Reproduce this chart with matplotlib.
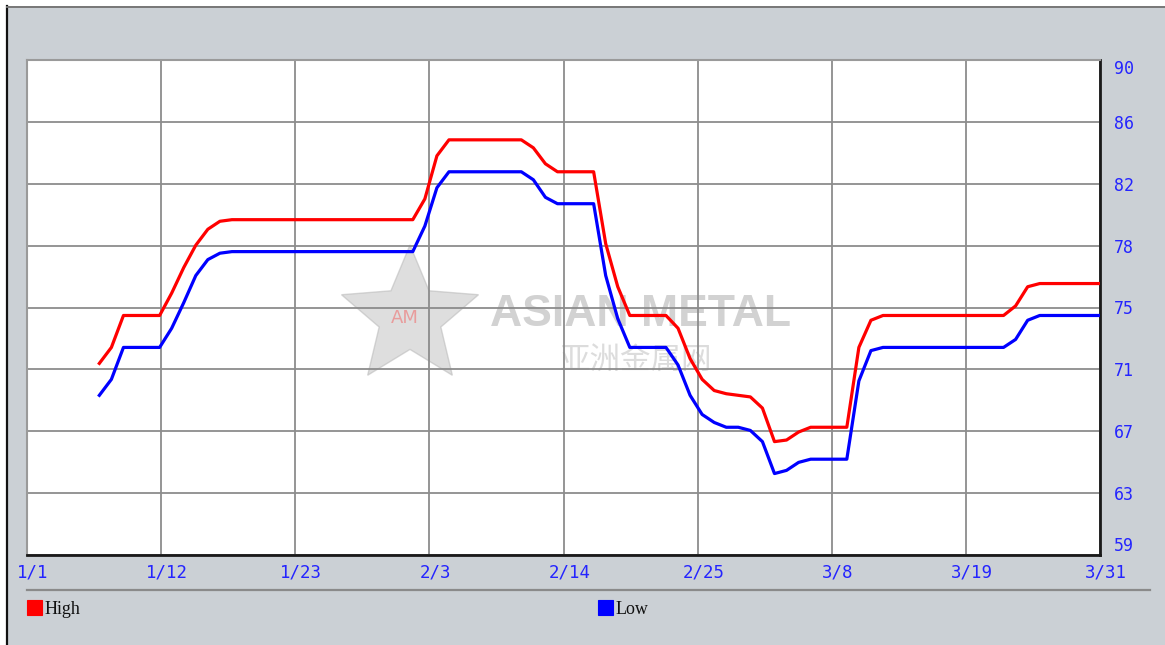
#Asian Metal 价格走势图 High/Low 两条线 1/1 - 3/31
import numpy as np
import pandas as pd
import matplotlib
matplotlib.use('Agg')
import matplotlib.pyplot as plt
from matplotlib import transforms
from matplotlib.path import Path
from matplotlib.patches import PathPatch, Rectangle
from matplotlib.lines import Line2D

#数据 每日价格 1/7 - 3/31
dates = pd.date_range('2013-01-07', '2013-03-31', freq='D')
high = [71.0, 72.0, 74.0, 74.0, 74.0, 74.0, 75.4, 77.0, 78.4, 79.4, 79.9,
        80, 80, 80, 80, 80, 80, 80, 80, 80, 80, 80, 80, 80, 80, 80, 80,
        81.3, 84.0,
        85, 85, 85, 85, 85, 85, 85,
        84.5, 83.5,
        83, 83, 83, 83,
        78.5, 75.8,
        74, 74, 74, 74,
        73.2, 71.3, 70.0, 69.3, 69.1, 69.0, 68.9, 68.2, 66.1, 66.2, 66.7,
        67, 67, 67, 67,
        72.0, 73.7,
        74, 74, 74, 74, 74, 74, 74, 74, 74, 74, 74,
        74.6, 75.8,
        76, 76, 76, 76, 76, 76]
low = [69.0, 70.0, 72.0, 72.0, 72.0, 72.0, 73.2, 74.8, 76.5, 77.5, 77.9,
       78, 78, 78, 78, 78, 78, 78, 78, 78, 78, 78, 78, 78, 78, 78, 78,
       79.6, 82.0,
       83, 83, 83, 83, 83, 83, 83,
       82.5, 81.4,
       81, 81, 81, 81,
       76.5, 73.8,
       72, 72, 72, 72,
       70.9, 69.0, 67.8, 67.3, 67.0, 67.0, 66.8, 66.1, 64.1, 64.3, 64.8,
       65, 65, 65, 65,
       69.9, 71.8,
       72, 72, 72, 72, 72, 72, 72, 72, 72, 72, 72,
       72.5, 73.7,
       74, 74, 74, 74, 74, 74]
x_labels = ['1/1', '1/12', '1/23', '2/3', '2/14', '2/25', '3/8', '3/19', '3/31']
y_labels = ['59', '63', '67', '71', '75', '78', '82', '86', '90']

W, H = 1165, 645
bg = '#cbd0d5'
lab_blue = '#2424ff'

fig = plt.figure(figsize=(W / 100, H / 100), dpi=100, facecolor='white')
#灰色底板 左边黑线 上边灰线
fig.patches.append(Rectangle((6 / W, 0), 1, 1 - 6 / H, transform=fig.transFigure,
                             facecolor=bg, edgecolor='none', zorder=-5))
fig.add_artist(Line2D([7 / W, 7 / W], [0, 1 - 6 / H], transform=fig.transFigure, color='#111111', lw=1.6))
fig.add_artist(Line2D([7 / W, 1], [1 - 7 / H, 1 - 7 / H], transform=fig.transFigure, color='#777777', lw=1.4))

ax = fig.add_axes([27 / W, 1 - 555 / H, 1073 / W, 495 / H])
ax.set_facecolor('white')

day = (dates - pd.Timestamp('2013-01-01')).days.values
ax.plot(day, high, color='#ff0000', lw=2.3, solid_joinstyle='round', zorder=3)
ax.plot(day, low, color='#0000ff', lw=2.3, solid_joinstyle='round', zorder=3)

ax.set_xlim(0, 89)
ax.set_ylim(59, 90)
ax.set_xticks(np.linspace(0, 89, 9))
ax.set_xticklabels(x_labels)
ax.set_yticks(np.linspace(59, 90, 9))
ax.set_yticklabels(y_labels)
ax.yaxis.tick_right()
ax.tick_params(length=0)
ax.tick_params(axis='x', pad=6, labelsize=12.5, labelcolor=lab_blue)
ax.tick_params(axis='y', pad=10, labelsize=12, labelcolor=lab_blue)
for t in ax.get_xticklabels() + ax.get_yticklabels():
    t.set_fontfamily('DejaVu Sans Mono')
#x标签略向右偏
off = transforms.ScaledTranslation(6 / 100, 0, fig.dpi_scale_trans)
for t in ax.get_xticklabels():
    t.set_transform(t.get_transform() + off)
yl = ax.get_yticklabels()
yl[0].set_va('bottom')
yl[-1].set_va('top')

ax.set_axisbelow(True)
ax.grid(True, color='#8c8c8c', lw=1.3)
for s in ['left', 'top']:
    ax.spines[s].set_color('#9a9a9a')
    ax.spines[s].set_linewidth(1.5)
for s in ['right', 'bottom']:
    ax.spines[s].set_color('#1a1a1a')
    ax.spines[s].set_linewidth(2)

#水印 星形 + ASIAN METAL
star = Path.unit_regular_star(5, 0.45)
tr = transforms.Affine2D().scale(72 / W, 72 / H).translate(410 / W, 1 - 317 / H) + fig.transFigure
ax.add_patch(PathPatch(star, transform=tr, facecolor='#c4c4c4', edgecolor='#b8b8b8',
                       alpha=0.55, zorder=0.1, clip_on=False))
ax.text(405 / W, 1 - 318 / H, 'AM', transform=fig.transFigure, color='#f07070', alpha=0.6,
        fontsize=13, ha='center', va='center', zorder=0.2)
ax.text(490 / W, 1 - 314 / H, 'ASIAN METAL', transform=fig.transFigure, color='#d2d2d2',
        fontsize=32, fontweight='bold', family='Liberation Sans', ha='left', va='center', zorder=0.2)
ax.text(636 / W, 1 - 360 / H, '亚洲金属网', transform=fig.transFigure, color='#dcdcdc',
        fontsize=22, family=['Noto Sans CJK SC', 'DejaVu Sans'], ha='center', va='center', zorder=0.2)

#分隔线和图例
fig.add_artist(Line2D([27 / W, 1150 / W], [1 - 590 / H, 1 - 590 / H], transform=fig.transFigure,
                      color='#8a8a8a', lw=1.6))
for x0, c, name in [(27, '#ff0000', 'High'), (598, '#0000ff', 'Low')]:
    fig.patches.append(Rectangle((x0 / W, 1 - 615 / H), 15 / W, 15 / H, transform=fig.transFigure,
                                 facecolor=c, edgecolor=c, lw=0.8))
    fig.text((x0 + 18) / W, 1 - 609 / H, name, fontsize=13, family='Liberation Serif',
             color='#111111', ha='left', va='center')

fig.savefig('out.png', dpi=100, facecolor=fig.get_facecolor())
